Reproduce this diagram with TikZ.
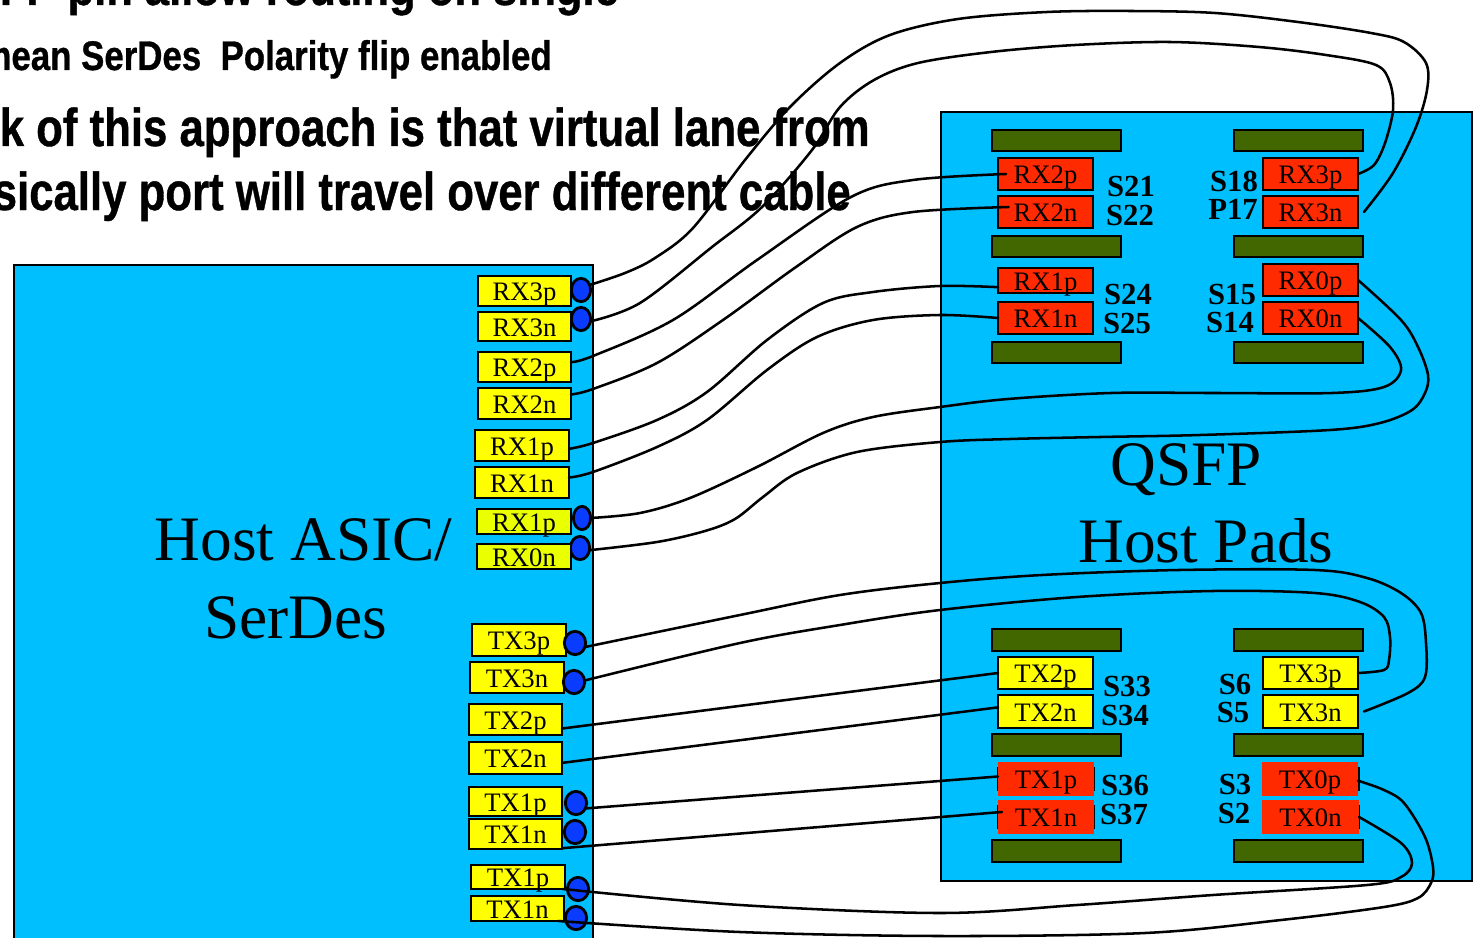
\documentclass[tikz,border=0pt]{standalone}
\usepackage{fontspec}
\usetikzlibrary{shapes.geometric}
\setmainfont{Liberation Serif}
\newfontfamily\headfont[BoldFeatures={FakeBold=0.8}]{Liberation Sans}
\definecolor{sky}{RGB}{0,191,255}
\definecolor{padred}{RGB}{255,42,0}
\definecolor{padyel}{RGB}{255,255,0}
\definecolor{padlime}{RGB}{234,255,0}
\definecolor{padgrn}{RGB}{66,102,0}
\definecolor{dotblue}{RGB}{10,60,255}
\tikzset{
  board/.style={draw=black,line width=2pt,fill=sky},
  padbase/.style={draw=black,line width=2.1pt,inner sep=0pt,outer sep=0pt,font=\fontsize{20}{20}\selectfont,text height=14.6pt,text depth=0pt},
  ypad/.style={padbase,fill=padyel},
  lpad/.style={padbase,fill=padlime},
  rpad/.style={padbase,fill=padred},
  fpad/.style={padbase,fill=padred,draw=none},
  fback/.style={padbase,fill=black,draw=none},
  gbar/.style={padbase,fill=padgrn},
  sdot/.style={ellipse,draw=black,line width=2.1pt,fill=dotblue,inner sep=0pt,outer sep=0pt},
  lab/.style={inner sep=0pt,anchor=center,font=\fontsize{23}{23}\bfseries\selectfont},
  big/.style={inner sep=0pt,anchor=base,font=\fontsize{47.5}{47.5}\selectfont},
  head/.style={inner sep=0pt,anchor=base east,font=\headfont\bfseries\selectfont},
  wire/.style={draw=black,line width=1.9pt,line cap=round,line join=round}
}
% \padn{name}{x1}{y1}{x2}{y2}{style}{text}
\newcommand{\padn}[7]{%
  \pgfmathsetmacro{\pw}{(#4-#2)*0.75-1.5}\pgfmathsetmacro{\ph}{(#5-#3)*0.75-1.5}%
  \node[#6,minimum width=\pw pt,minimum height=\ph pt] (#1) at ({(#2+#4)/2},{(#3+#5)/2}) {#7};}
% \dotn{name}{x}{y}{rx}{ry}
\newcommand{\dotn}[5]{%
  \pgfmathsetmacro{\pw}{#4*1.5-2}\pgfmathsetmacro{\ph}{#5*1.5-2}%
  \node[sdot,minimum width=\pw pt,minimum height=\ph pt] (#1) at (#2,#3) {};}
\begin{document}
\begin{tikzpicture}[x=0.75pt,y=-0.75pt]
\useasboundingbox (0,0) rectangle (1474,938);
\clip (0,0) rectangle (1474,938);
% headings
\node[head] (h1) at (619,5) {\fontsize{37}{37}\selectfont\scalebox{0.882}[1]{QSFP pin allow routing on single}};
\node[head] (h2) at (552,70) {\fontsize{31}{31}\selectfont\scalebox{0.843}[1]{mean SerDes\ \ Polarity flip enabled}};
\node[head] (h3) at (870,146) {\fontsize{40}{40}\selectfont\scalebox{0.82}[1]{k of this approach is that virtual lane from}};
\node[head] (h4) at (851,210) {\fontsize{40}{40}\selectfont\scalebox{0.82}[1]{sically port will travel over different cable}};
% boards
\path[board] (14,265) rectangle (593,960);
\path[board] (941,112) rectangle (1472,881);
\node[big] (tA) at (303.5,560) {Host ASIC/};
\node[big] (tB) at (296,638) {SerDes};
\node[big] (tC) at (1186,485) {QSFP};
\node[big] (tD) at (1206,562) {Host Pads};
% host RX dots, under the pads
\dotn{dA}{581}{290}{11}{13}
\dotn{dB}{581}{319}{11}{13}
\dotn{dC}{582}{518}{10}{13}
\dotn{dD}{580}{548}{11}{13}
% host pads
\padn{hRXa}{477}{275}{572}{307}{ypad}{RX3p}
\padn{hRXb}{477}{311}{572}{342}{ypad}{RX3n}
\padn{hRXc}{477}{351}{572}{383}{ypad}{RX2p}
\padn{hRXd}{477}{387}{572}{420}{ypad}{RX2n}
\padn{hRXe}{474}{429}{570}{462}{ypad}{RX1p}
\padn{hRXf}{474}{466}{570}{499}{ypad}{RX1n}
\padn{hRXg}{476}{508}{572}{535}{lpad}{RX1p}
\padn{hRXh}{476}{543}{572}{570}{lpad}{RX0n}
\padn{hTXa}{471}{623}{567}{657}{ypad}{TX3p}
\padn{hTXb}{469}{661}{565}{694}{ypad}{TX3n}
\padn{hTXc}{468}{703}{563}{736}{ypad}{TX2p}
\padn{hTXd}{468}{741}{563}{775}{ypad}{TX2n}
\padn{hTXe}{468}{786}{563}{817}{ypad}{TX1p}
\padn{hTXf}{468}{818}{563}{850}{ypad}{TX1n}
\padn{hTXg}{470}{864}{566}{890}{ypad}{TX1p}
\padn{hTXh}{470}{895}{565}{922}{ypad}{TX1n}
% host TX dots, over the pads
\dotn{dE}{575}{643}{12}{13}
\dotn{dF}{574}{682}{12}{13}
\dotn{dG}{576}{803}{12}{13}
\dotn{dH}{575}{832}{12}{13}
\dotn{dI}{578}{889}{12}{13}
\dotn{dJ}{576}{918}{12}{13}
% green bars
\padn{gA}{991}{129}{1122}{152}{gbar}{}
\padn{gB}{991}{235}{1122}{258}{gbar}{}
\padn{gC}{991}{341}{1122}{364}{gbar}{}
\padn{gD}{1233}{129}{1364}{152}{gbar}{}
\padn{gE}{1233}{235}{1364}{258}{gbar}{}
\padn{gF}{1233}{341}{1364}{364}{gbar}{}
\padn{gG}{991}{628}{1122}{652}{gbar}{}
\padn{gH}{991}{733}{1122}{757}{gbar}{}
\padn{gI}{991}{839}{1122}{863}{gbar}{}
\padn{gJ}{1233}{628}{1364}{652}{gbar}{}
\padn{gK}{1233}{733}{1364}{757}{gbar}{}
\padn{gL}{1233}{839}{1364}{863}{gbar}{}
% QSFP pads
\padn{qRXc}{997}{157}{1094}{191}{rpad}{RX2p}
\padn{qRXd}{997}{195}{1094}{229}{rpad}{RX2n}
\padn{qRXe}{997}{267}{1094}{294}{rpad}{RX1p}
\padn{qRXf}{997}{301}{1094}{335}{rpad}{RX1n}
\padn{qRXa}{1262}{157}{1359}{191}{rpad}{RX3p}
\padn{qRXb}{1262}{195}{1359}{229}{rpad}{RX3n}
\padn{qRXg}{1262}{263}{1359}{297}{rpad}{RX0p}
\padn{qRXh}{1262}{301}{1359}{335}{rpad}{RX0n}
\padn{qTXc}{997}{656}{1094}{690}{ypad}{TX2p}
\padn{qTXd}{997}{694}{1094}{729}{ypad}{TX2n}
\padn{qTXa}{1262}{656}{1359}{690}{ypad}{TX3p}
\padn{qTXb}{1262}{694}{1359}{729}{ypad}{TX3n}
\padn{bkA}{995.5}{766}{1095.5}{792}{fback}{}
\padn{bkB}{995.5}{804}{1095.5}{830}{fback}{}
\padn{bkC}{1260.5}{766}{1360.5}{792}{fback}{}
\padn{bkD}{1260.5}{804}{1360.5}{830}{fback}{}
\padn{qTXe}{997}{761}{1095}{797}{fpad}{TX1p}
\padn{qTXf}{997}{799}{1095}{835}{fpad}{TX1n}
\padn{qTXg}{1261}{761}{1359}{797}{fpad}{TX0p}
\padn{qTXh}{1261}{799}{1360}{835}{fpad}{TX0n}
% pad labels
\node[lab] (sA) at (1131,186) {S21};
\node[lab] (sB) at (1130,215) {S22};
\node[lab] (sC) at (1234,181) {S18};
\node[lab] (sD) at (1233,209) {P17};
\node[lab] (sE) at (1128,294) {S24};
\node[lab] (sF) at (1127,323) {S25};
\node[lab] (sG) at (1232,294) {S15};
\node[lab] (sH) at (1230,322) {S14};
\node[lab] (sI) at (1127,686) {S33};
\node[lab] (sJ) at (1125,715) {S34};
\node[lab] (sK) at (1125,785) {S36};
\node[lab] (sL) at (1124,814) {S37};
\node[lab] (sM) at (1235,684) {S6};
\node[lab] (sN) at (1233,712) {S5};
\node[lab] (sO) at (1235,784) {S3};
\node[lab] (sP) at (1234,813) {S2};
% wires
\draw[wire] plot[smooth,tension=0.55] coordinates {(dA.30) (625,273) (655,258) (693,228) (745,160) (790,107) (840,63) (890,35) (958,19) (1047,12) (1131,11) (1215,13) (1298,22) (1371,33) (1404,42) (1426,63) (1427,90) (1416,127) (1393,173) ([xshift=4.5pt]qRXb.east)};
\draw[wire] plot[smooth,tension=0.55] coordinates {(dB.-14) (640,303) (712,247) (762,207) (812,150) (840,107) (874,80) (918,63) (991,52) (1075,45) (1170,42) (1259,47) (1326,55) (1376,65) (1390,83) (1393,110) (1385,143) (1374,165) (qRXa.east)};
\draw[wire] plot[smooth,tension=0.55] coordinates {(hRXc.6) (593,356) (673,320) (757,260) (851,197) (913,180) ([xshift=6pt]qRXc.west)};
\draw[wire] plot[smooth,tension=0.55] coordinates {(hRXd.11) (593,389) (657,363) (723,320) (796,267) (857,227) (913,212) ([xshift=8pt]qRXd.174)};
\draw[wire] plot[smooth,tension=0.55] coordinates {(hRXe.-4) (593,443) (657,420) (707,392) (767,340) (823,303) (873,292) (940,286) (qRXe.188)};
\draw[wire] plot[smooth,tension=0.55] coordinates {(hRXf.6) (593,472) (657,447) (707,420) (767,370) (817,337) (873,320) (940,315) (qRXf.west)};
\draw[wire] plot[smooth,tension=0.55] coordinates {(dC.east) (640,513) (690,498) (757,467) (823,433) (873,417) (940,407) (1008,399) (1111,393) (1213,393) (1332,393) (1384,387) (1401,370) (1390,347) (qRXh.east)};
\draw[wire] plot[smooth,tension=0.55] coordinates {(dD.-13) (657,542) (705,531) (735,519) (763,497) (797,473) (857,452) (940,442) (1010,439) (1100,437) (1200,435) (1330,430) (1380,423) (1412,410) (1425,393) (1428,375) (1418,347) (1401,320) (qRXg.east)};
\draw[wire] plot[smooth,tension=0.55] coordinates {(dE.-22) (740,615) (840,595) (940,583) (1042,575) (1179,570) (1315,570) (1367,578) (1401,593) (1421,613) (1426,643) (1425,677) (1408,693) ([xshift=4.5pt]qTXb.east)};
\draw[wire] plot[smooth,tension=0.55] coordinates {(dF.8) (740,643) (840,625) (940,610) (1077,597) (1213,591) (1315,593) (1360,602) (1384,617) (1390,637) (1389,660) (1384,670) (qTXa.east)};
\draw[wire] (hTXc.-11) -- (qTXc.west);
\draw[wire] (hTXd.-6) -- (qTXd.175);
\draw[wire] (dG.-30) -- (qTXe.177);
\draw[wire] (hTXf.-17) -- ([xshift=3pt]qTXf.174);
\draw[wire] plot[smooth,tension=0.55] coordinates {(hTXg.-15) (740,905) (940,913) (1077,905) (1213,895) (1367,885) (1401,877) (1412,863) (1401,843) (qTXh.east)};
\draw[wire] plot[smooth,tension=0.55] coordinates {(hTXh.-17) (740,932) (940,936) (1145,933) (1281,920) (1384,907) (1418,898) (1431,883) (1433,867) (1425,837) (1404,803) (1384,790) (qTXg.-2)};
\end{tikzpicture}
\end{document}
